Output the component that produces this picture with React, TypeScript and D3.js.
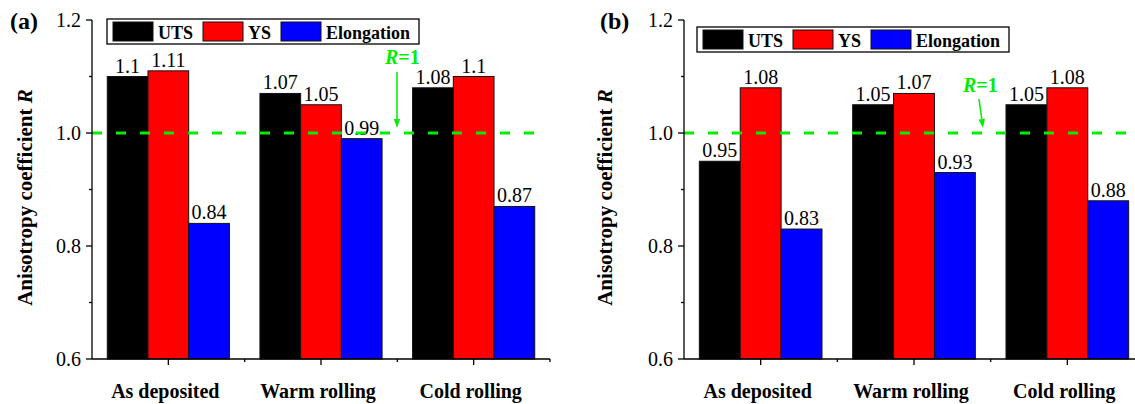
import React from "react";
import * as d3 from "d3";

// categories, series and values
const categories = ["As deposited", "Warm rolling", "Cold rolling"];
const seriesNames = ["UTS", "YS", "Elongation"];
const seriesColors = ["#000000", "#ff0000", "#0000ff"];
const yTicks = [0.6, 0.8, 1.0, 1.2];
const yMinorTicks = [0.7, 0.9, 1.1];

const utsA = [1.1, 1.07, 1.08];
const ysA = [1.11, 1.05, 1.1];
const elongA = [0.84, 0.99, 0.87];

const utsB = [0.95, 1.05, 1.05];
const ysB = [1.08, 1.07, 1.08];
const elongB = [0.83, 0.93, 0.88];

const labelsA = [["1.1", "1.07", "1.08"], ["1.11", "1.05", "1.1"], ["0.84", "0.99", "0.87"]];
const labelsB = [["0.95", "1.05", "1.05"], ["1.08", "1.07", "1.08"], ["0.83", "0.93", "0.88"]];

const FONT = "Liberation Serif";
const GREEN = "#00ee00";

const panels = [
  {
    tag: "(a)",
    tagX: 10,
    left: 92,
    right: 550,
    lineEnd: 540,
    values: [utsA, ysA, elongA],
    labels: labelsA,
    legend: { x: 107, y: 19 },
    note: { x: 385, y: 64 },
    arrow: { x1: 397, y1: 72, x2: 397, y2: 128 },
    titleX: 32,
  },
  {
    tag: "(b)",
    tagX: 600,
    left: 684,
    right: 1144,
    lineEnd: 1135,
    values: [utsB, ysB, elongB],
    labels: labelsB,
    legend: { x: 697, y: 27 },
    note: { x: 963, y: 92 },
    arrow: { x1: 979, y1: 99, x2: 983, y2: 128 },
    titleX: 612,
  },
];

const y = d3.scaleLinear().domain([0.6, 1.2]).range([359, 20]);

function Panel({ p }: { p: (typeof panels)[number] }) {
  const x0 = d3
    .scaleBand<string>()
    .domain(categories)
    .range([p.left, p.right])
    .paddingInner(0.2)
    .paddingOuter(0.1);
  const x1 = d3.scaleBand<string>().domain(seriesNames).range([0, x0.bandwidth()]);
  const step = x0.step();
  const base = y(0.6);

  // arrow head
  const ang = Math.atan2(p.arrow.y2 - p.arrow.y1, p.arrow.x2 - p.arrow.x1);
  const hl = 9;
  const hw = 3.2;
  const bx = p.arrow.x2 - hl * Math.cos(ang);
  const by = p.arrow.y2 - hl * Math.sin(ang);
  const head = [
    [p.arrow.x2, p.arrow.y2],
    [bx + hw * Math.sin(ang), by - hw * Math.cos(ang)],
    [bx - hw * Math.sin(ang), by + hw * Math.cos(ang)],
  ]
    .map((d) => d.join(","))
    .join(" ");

  return (
    <g style={{ fontFamily: FONT }}>
      {/* bars */}
      {seriesNames.map((s, si) =>
        categories.map((c, ci) => {
          const v = p.values[si][ci];
          const bx0 = (x0(c) as number) + (x1(s) as number);
          return (
            <g key={s + c}>
              <rect
                x={bx0}
                y={y(v)}
                width={x1.bandwidth()}
                height={base - y(v)}
                fill={seriesColors[si]}
                stroke="#111"
                strokeWidth={1}
              />
              <text x={bx0 + x1.bandwidth() / 2} y={y(v) - 4} fontSize={20} textAnchor="middle">
                {p.labels[si][ci]}
              </text>
            </g>
          );
        })
      )}

      {/* R = 1 reference line */}
      <line
        x1={p.left}
        x2={p.lineEnd}
        y1={y(1.0)}
        y2={y(1.0)}
        stroke={GREEN}
        strokeWidth={3}
        strokeDasharray="10,14"
      />
      <text x={p.note.x} y={p.note.y} fontSize={20} fontWeight="bold" fill={GREEN}>
        <tspan fontStyle="italic">R</tspan>=1
      </text>
      <line x1={p.arrow.x1} y1={p.arrow.y1} x2={bx} y2={by} stroke={GREEN} strokeWidth={1.5} />
      <polygon points={head} fill={GREEN} />

      {/* y axis */}
      <line x1={p.left} x2={p.left} y1={y(1.2)} y2={base} stroke="#000" strokeWidth={1.3} />
      {yTicks.map((t) => (
        <g key={t}>
          <line x1={p.left - 6} x2={p.left} y1={y(t)} y2={y(t)} stroke="#000" strokeWidth={1.3} />
          <text x={p.left - 11} y={y(t) + 7} fontSize={20} textAnchor="end">
            {d3.format(".1f")(t)}
          </text>
        </g>
      ))}
      {yMinorTicks.map((t) => (
        <line key={t} x1={p.left - 3} x2={p.left} y1={y(t)} y2={y(t)} stroke="#000" strokeWidth={1.3} />
      ))}
      <text
        transform={`translate(${p.titleX},${(y(1.2) + base) / 2 + 8}) rotate(-90)`}
        fontSize={21}
        fontWeight="bold"
        textAnchor="middle"
      >
        Anisotropy coefficient <tspan fontStyle="italic">R</tspan>
      </text>

      {/* x axis */}
      <line x1={p.left} x2={p.right} y1={base} y2={base} stroke="#000" strokeWidth={1.3} />
      {categories.map((c) => {
        const cx = (x0(c) as number) + x0.bandwidth() / 2;
        return (
          <g key={c}>
            <line x1={cx} x2={cx} y1={base} y2={base + 6} stroke="#000" strokeWidth={1.3} />
            <text x={cx - 3} y={398} fontSize={20} fontWeight="bold" textAnchor="middle">
              {c}
            </text>
          </g>
        );
      })}
      {d3.range(1, categories.length + 1).map((k) => (
        <line
          key={k}
          x1={p.left + k * step}
          x2={p.left + k * step}
          y1={base}
          y2={base + 3}
          stroke="#000"
          strokeWidth={1.3}
        />
      ))}

      {/* legend */}
      <g transform={`translate(${p.legend.x},${p.legend.y})`}>
        <rect x={0} y={0} width={312} height={25} fill="#fff" stroke="#000" strokeWidth={1.3} />
        {seriesNames.map((s, si) => {
          const off = [6, 96, 174][si];
          return (
            <g key={s}>
              <rect x={off} y={3} width={40} height={19} fill={seriesColors[si]} stroke="#111" strokeWidth={1} />
              <text x={off + 45} y={20} fontSize={18} fontWeight="bold">
                {s}
              </text>
            </g>
          );
        })}
      </g>

      <text x={p.tagX} y={29} fontSize={24} fontWeight="bold">
        {p.tag}
      </text>
    </g>
  );
}

export default function App() {
  return (
    <svg
      width={1135}
      height={404}
      style={{ position: "absolute", left: 0, top: 0, background: "#fff" }}
    >
      {panels.map((p) => (
        <Panel key={p.tag} p={p} />
      ))}
    </svg>
  );
}
